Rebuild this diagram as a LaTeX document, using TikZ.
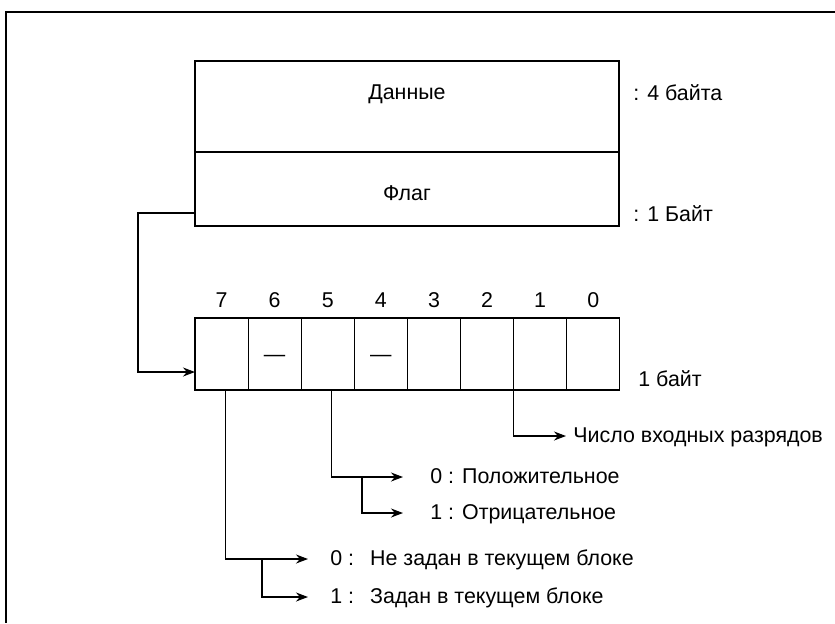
\documentclass[tikz,border=0pt]{standalone}
\usepackage{fontspec}
\setmainfont{Liberation Sans}
\usetikzlibrary{arrows.meta}
\tikzset{
    feld/.style={draw, line width=0.6pt, inner sep=0pt, outer sep=0pt},
    bitfeld/.style={feld, minimum width=26.55pt, minimum height=36pt},
    txt/.style={inner sep=0pt, anchor=west, text height=1.5ex, text depth=.25ex},
    pfeil/.style={line width=0.6pt, -{Stealth[length=6pt, width=4.5pt]}}
}

\begin{document}
\begin{tikzpicture}[x=0.5pt, y=-0.5pt, font=\fontsize{10.7}{12.8}\selectfont]
\useasboundingbox (0,0) rectangle (835,623);

% Breite eines Bits
\def\bw{53.1}

% Rahmen
\draw[line width=1.2pt] (835,12) -- (6,12) -- (6,623);

% Daten und Flag
\node[feld, minimum width=212pt, minimum height=45.5pt, anchor=north west] (daten) at (195,61) {};
\node[feld, minimum width=212pt, minimum height=37pt, anchor=north west] (flag) at (195,152) {};
\node (tdaten) at (407,94) {Данные};
\node (tflag) at (407,193) {Флаг};
\node[txt] (vier) at (633,94) {: 4 байта};
\node[txt] (eins) at (633,215) {: 1 Байт};

% Bits 7 ... 0
\foreach \i in {7,...,0} {
  \node[bitfeld] (b\i) at ({195+\bw*(7-\i)+\bw/2},354) {};
  \node (l\i) at ([yshift=9pt]b\i.north) {\i};
}
\node (s6) at ([yshift=-2pt]b6) {—};
\node (s4) at ([yshift=-2pt]b4) {—};
\node[txt] (byte) at (638,380) {1 байт};

% Texte
\node[txt] (dig) at (573,436) {Число входных разрядов};
\node[txt] (p0) at (430,477) {0 : Положительное};
\node[txt] (p1) at (430,513) {1 : Отрицательное};
\node[txt] (n0) at (330,559) {0 :\hspace{8pt}Не задан в текущем блоке};
\node[txt] (n1) at (330,597) {1 :\hspace{8pt}Задан в текущем блоке};

% Flag -> Bit 7
\draw[pfeil] ([yshift=-12pt]flag.west) -- ++(-57,0) |- ([yshift=-9pt]b7.west);

% Bit 7
\draw[pfeil, shorten >=11pt] ([xshift=2pt]b7.south) |- (n0.west);
\coordinate (j7) at (262,559);
\draw[pfeil, shorten >=11pt] (j7) |- (n1.west);

% Bit 5
\draw[pfeil, shorten >=13.5pt] ([xshift=2pt]b5.south) |- (p0.west);
\coordinate (j5) at (362,477);
\draw[pfeil, shorten >=13.5pt] (j5) |- (p1.west);

% Bit 1
\draw[pfeil, shorten >=3.5pt] (b1.south west) |- (dig.west);
\end{tikzpicture}
\end{document}
